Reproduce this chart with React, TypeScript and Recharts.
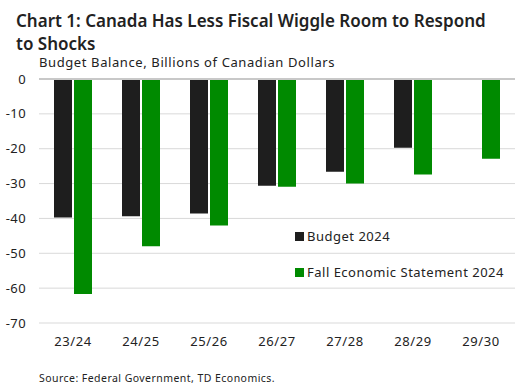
import { BarChart, Bar, XAxis, YAxis, CartesianGrid, ReferenceLine } from 'recharts'

const years = ['23/24', '24/25', '25/26', '26/27', '27/28', '28/29', '29/30']
const budget2024 = [-39.7, -39.4, -38.6, -30.6, -26.6, -19.7, null]
const fes2024 = [-61.7, -48.0, -42.0, -30.9, -30.0, -27.4, -22.9]
const yTicks = [0, -10, -20, -30, -40, -50, -60, -70]

const data = years.map((year, i) => ({
  year,
  budget: budget2024[i],
  fes: fes2024[i],
}))

const BLACK = '#1e1e1e'
const GREEN = '#008a00'
const FONT = '"Noto Sans", sans-serif'

function LegendBox() {
  const items = [
    { label: 'Budget 2024', color: BLACK },
    { label: 'Fall Economic Statement 2024', color: GREEN },
  ]
  return (
    <div style={{ fontFamily: FONT, fontSize: 13, color: '#222', letterSpacing: 0.5 }}>
      {items.map((it) => (
        <div key={it.label} style={{ display: 'flex', alignItems: 'center', height: 36 }}>
          <span style={{ width: 9, height: 9, background: it.color, marginRight: 3, display: 'inline-block' }} />
          {it.label}
        </div>
      ))}
    </div>
  )
}

export default function App() {
  return (
    <div style={{ position: 'absolute', left: 0, top: 0, width: 516, height: 385, background: '#fff', fontFamily: FONT }}>
      <div style={{ position: 'absolute', left: 0, top: 0 }}>
        <BarChart
          width={516}
          height={360}
          data={data}
          margin={{ top: 79, right: 1, left: 0, bottom: 0 }}
          barGap={2}
          barCategoryGap={15}
        >
          <CartesianGrid vertical={false} stroke="#d9d9d9" />
          <XAxis
            dataKey="year"
            axisLine={false}
            tickLine={false}
            height={37}
            tickMargin={8}
            tick={{ fill: '#222', fontSize: 13, fontFamily: FONT, letterSpacing: 0.6 }}
          />
          <YAxis
            type="number"
            domain={[-70, 0]}
            ticks={yTicks}
            width={39}
            axisLine={false}
            tickLine={false}
            tickMargin={7}
            tick={{ fill: '#222', fontSize: 13, fontFamily: FONT, letterSpacing: 0.4 }}
          />
          <ReferenceLine y={0} stroke="#c8c8c8" strokeWidth={2} />
          <Bar dataKey="budget" name="Budget 2024" fill={BLACK} isAnimationActive={false} />
          <Bar dataKey="fes" name="Fall Economic Statement 2024" fill={GREEN} isAnimationActive={false} />
        </BarChart>
      </div>
      <div style={{ position: 'absolute', left: 16, top: 9, fontSize: 17, fontWeight: 600, lineHeight: '23px', color: '#222', whiteSpace: 'nowrap' }}>
        Chart 1: Canada Has Less Fiscal Wiggle Room to Respond
        <br />
        to Shocks
      </div>
      <div style={{ position: 'absolute', left: 39, top: 53, fontSize: 13, color: '#222', letterSpacing: 0.6 }}>
        Budget Balance, Billions of Canadian Dollars
      </div>
      <div style={{ position: 'absolute', left: 295, top: 218, width: 220 }}>
        <LegendBox />
      </div>
      <div style={{ position: 'absolute', left: 39, top: 371, fontSize: 10.5, color: '#222', letterSpacing: 0.45 }}>
        Source: Federal Government, TD Economics.
      </div>
    </div>
  )
}
